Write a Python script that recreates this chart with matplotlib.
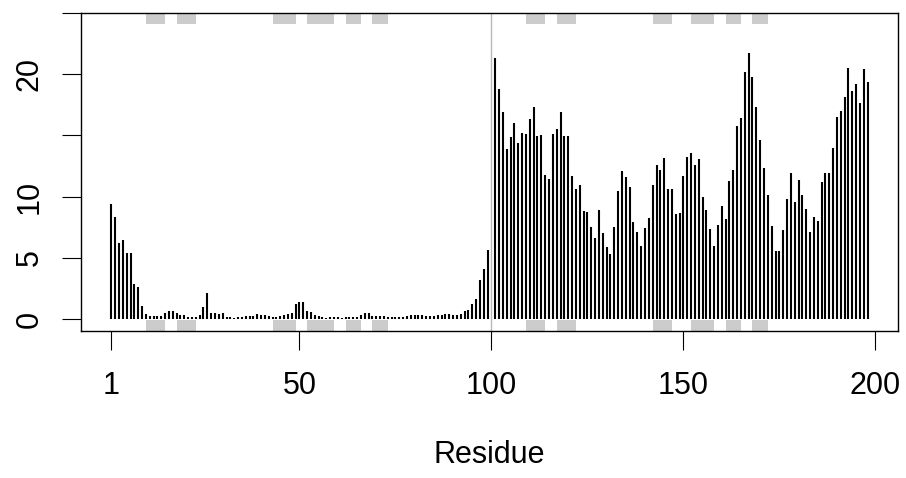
import matplotlib
matplotlib.use('Agg')
import matplotlib.pyplot as plt
import numpy as np

# per-residue values (residues 1..198)
values = [
    9.37, 8.36, 6.24, 6.43, 5.39, 5.39, 2.89, 2.59, 1.09, 0.41,
    0.27, 0.22, 0.22, 0.27, 0.46, 0.63, 0.63, 0.46, 0.35, 0.30,
    0.19, 0.19, 0.19, 0.33, 0.95, 2.10, 0.52, 0.46, 0.41, 0.46,
    0.19, 0.14, 0.11, 0.14, 0.19, 0.22, 0.22, 0.22, 0.38, 0.30,
    0.30, 0.27, 0.19, 0.19, 0.27, 0.33, 0.38, 0.46, 1.20, 1.39,
    1.39, 0.65, 0.55, 0.33, 0.27, 0.14, 0.11, 0.14, 0.16, 0.16,
    0.11, 0.14, 0.16, 0.16, 0.19, 0.30, 0.46, 0.49, 0.27, 0.22,
    0.22, 0.27, 0.19, 0.16, 0.14, 0.14, 0.14, 0.27, 0.35, 0.35,
    0.35, 0.30, 0.27, 0.27, 0.27, 0.35, 0.30, 0.38, 0.41, 0.33,
    0.35, 0.41, 0.65, 0.71, 1.22, 1.65, 3.15, 4.06, 5.64, 0.0,
    21.3, 18.77, 16.94, 13.89, 14.87, 15.99, 14.4, 15.2, 15.1, 16.37,
    17.3, 14.98, 15.06, 11.79, 11.41, 15.09, 15.5, 16.94, 14.98, 14.93,
    11.68, 10.65, 10.97, 8.8, 8.74, 7.54, 6.64, 8.9, 7.0, 5.91,
    5.31, 7.52, 10.48, 12.06, 11.57, 10.76, 7.92, 7.08, 5.99, 7.43,
    8.25, 10.95, 12.58, 12.15, 13.13, 10.65, 10.65, 8.55, 8.66, 11.68,
    13.26, 13.54, 12.56, 13.05, 9.97, 8.9, 7.35, 5.99, 7.68, 9.2,
    8.19, 11.3, 12.2, 15.74, 16.42, 20.16, 21.7, 19.8, 17.3, 14.62,
    12.34, 10.1, 7.62, 5.56, 5.56, 7.27, 9.78, 11.9, 9.58, 11.36,
    10.16, 8.96, 7.13, 8.36, 7.98, 11.22, 11.95, 11.9, 13.97, 16.5,
    17.02, 18.14, 20.48, 18.6, 19.22, 17.62, 20.42, 19.36,
]

# strand segments (grey boxes top and bottom)
strand_start = [10, 18, 43, 52, 62, 69, 109, 117, 142, 152, 161, 168]
strand_end = [15, 23, 49, 59, 66, 73, 114, 122, 147, 158, 165, 172]
chain_break = 100

xticks = [1, 50, 100, 150, 200]
yticks = [0, 5, 10, 15, 20, 25]
ytick_labels = ['0', '5', '10', '', '20', '']

plt.rcParams['font.family'] = ['Liberation Sans', 'DejaVu Sans']

W, H = 906, 478
fig = plt.figure(figsize=(W / 100, H / 100), dpi=100)
ax = fig.add_axes([81 / W, 1 - 331 / H, (898 - 81) / W, (331 - 13) / H])

ylo, yhi = -0.98, 25.0
ax.set_xlim(-6.9, 205.9)
ax.set_ylim(ylo, yhi)

res = np.arange(1, len(values) + 1)
ax.vlines(res, 0, values, color='black', lw=1.5, capstyle='butt')

for s, e in zip(strand_start, strand_end):
    ax.bar(x=s, height=0.9, width=e - s, bottom=yhi - 0.9, align='edge',
           color='#cccccc', lw=0)
    ax.bar(x=s, height=-0.08 - ylo, width=e - s, bottom=ylo, align='edge',
           color='#cccccc', lw=0)

ax.axvline(chain_break, color='#b8b8b8', lw=1.0)

ax.set_xticks(xticks)
ax.set_yticks(yticks)
ax.set_yticklabels(ytick_labels, rotation=90, va='center')
ax.tick_params(length=14, width=0.8, direction='out', labelsize=22)
ax.tick_params(axis='x', pad=15)
ax.tick_params(axis='y', pad=12)
for sp in ax.spines.values():
    sp.set_linewidth(1.0)

ax.set_xlabel('Residue', fontsize=22, labelpad=28)

fig.savefig('out.png', dpi=100)
